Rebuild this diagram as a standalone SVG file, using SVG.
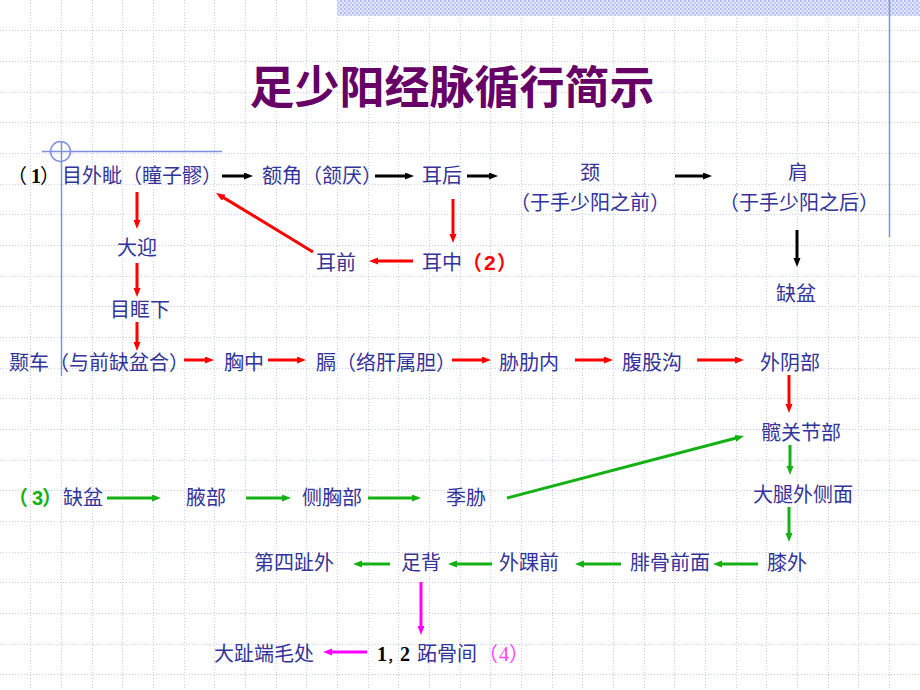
<svg xmlns="http://www.w3.org/2000/svg" width="920" height="690" viewBox="0 0 920 690">
<defs>
<style>
.t{font-family:"Noto Sans CJK SC","Noto Sans",sans-serif;font-size:20px;fill:#333399}
.title{font-family:"Noto Sans CJK SC",sans-serif;font-size:45px;font-weight:bold;fill:#660066}
.serifb{font-family:"Liberation Serif",serif;font-weight:bold}
.sansb{font-family:"Liberation Sans",sans-serif;font-weight:bold}
.grid{stroke:#c4caf2;stroke-width:1;stroke-dasharray:1 2;fill:none}
.deco{stroke:#8090e6;stroke-width:1.5;fill:none}
.k{stroke:#000;stroke-width:3;fill:none;marker-end:url(#ak)}
.r{stroke:#ff0000;stroke-width:3;fill:none;marker-end:url(#ar)}
.g{stroke:#14b014;stroke-width:3;fill:none;marker-end:url(#ag)}
.m{stroke:#ff00ff;stroke-width:3;fill:none;marker-end:url(#am)}
</style>
<pattern id="band" width="4" height="4" patternUnits="userSpaceOnUse">
<rect width="4" height="4" fill="#e2e7fc"/>
<rect width="2" height="2" fill="#b0bcf2"/>
<rect x="2" y="2" width="2" height="2" fill="#c4ccf6"/>
</pattern>
<marker id="ak" markerUnits="userSpaceOnUse" markerWidth="10" markerHeight="8" refX="3" refY="3.5" orient="auto"><path d="M0,0 L9,3.5 L0,7 z" fill="#000"/></marker>
<marker id="ar" markerUnits="userSpaceOnUse" markerWidth="10" markerHeight="8" refX="3" refY="3.5" orient="auto"><path d="M0,0 L9,3.5 L0,7 z" fill="#ff0000"/></marker>
<marker id="ag" markerUnits="userSpaceOnUse" markerWidth="10" markerHeight="8" refX="3" refY="3.5" orient="auto"><path d="M0,0 L9,3.5 L0,7 z" fill="#14b014"/></marker>
<marker id="am" markerUnits="userSpaceOnUse" markerWidth="10" markerHeight="8" refX="3" refY="3.5" orient="auto"><path d="M0,0 L9,3.5 L0,7 z" fill="#ff00ff"/></marker>
</defs>
<rect width="920" height="690" fill="#ffffff"/>
<g id="background">
<path class="grid" d="M30.5,0V690M61.5,0V690M92.5,0V690M122.5,0V690M153.5,0V690M184.5,0V690M214.5,0V690M245.5,0V690M276.5,0V690M306.5,0V690M337.5,0V690M368.5,0V690M398.5,0V690M429.5,0V690M460.5,0V690M490.5,0V690M521.5,0V690M552.5,0V690M582.5,0V690M613.5,0V690M644.5,0V690M674.5,0V690M705.5,0V690M736.5,0V690M766.5,0V690M797.5,0V690M828.5,0V690M858.5,0V690M889.5,0V690M0,30.5H920M0,61.5H920M0,92.5H920M0,122.5H920M0,153.5H920M0,184.5H920M0,214.5H920M0,245.5H920M0,276.5H920M0,306.5H920M0,337.5H920M0,368.5H920M0,398.5H920M0,429.5H920M0,460.5H920M0,490.5H920M0,521.5H920M0,552.5H920M0,582.5H920M0,613.5H920M0,644.5H920M0,674.5H920"/>
<rect x="337" y="0" width="583" height="16" fill="url(#band)"/>
<line class="deco" x1="889.5" y1="0" x2="889.5" y2="237"/>
<line class="deco" x1="42" y1="151.5" x2="222" y2="151.5"/>
<line class="deco" x1="61.5" y1="141" x2="61.5" y2="376"/>
<circle class="deco" cx="60.5" cy="151.5" r="10"/>
</g>
<text class="title" x="452" y="104" text-anchor="middle">足少阳经脉循行简示</text>
<g id="connectors">
<line class="k" x1="222" y1="176" x2="247" y2="176"/>
<line class="k" x1="375" y1="176" x2="408" y2="176"/>
<line class="k" x1="467" y1="176" x2="492" y2="176"/>
<line class="k" x1="675" y1="176" x2="706" y2="176"/>
<line class="k" x1="797" y1="230" x2="797" y2="261"/>
<line class="r" x1="137" y1="192" x2="137" y2="223"/>
<line class="r" x1="137" y1="263" x2="137" y2="291"/>
<line class="r" x1="137" y1="322" x2="137" y2="345"/>
<line class="r" x1="453" y1="199" x2="453" y2="237"/>
<line class="r" x1="413" y1="261" x2="375" y2="261"/>
<line class="r" x1="313" y1="252" x2="221.1" y2="196.1"/>
<line class="r" x1="184" y1="360" x2="208" y2="360"/>
<line class="r" x1="268" y1="360" x2="300" y2="360"/>
<line class="r" x1="452" y1="360" x2="485" y2="360"/>
<line class="r" x1="575" y1="360" x2="607" y2="360"/>
<line class="r" x1="697" y1="360" x2="738" y2="360"/>
<line class="r" x1="789" y1="375" x2="789" y2="407"/>
<line class="g" x1="790" y1="445" x2="790" y2="469"/>
<line class="g" x1="789" y1="507" x2="789" y2="536"/>
<line class="g" x1="758" y1="564" x2="719" y2="564"/>
<line class="g" x1="621" y1="564" x2="581" y2="564"/>
<line class="g" x1="492" y1="564" x2="454" y2="564"/>
<line class="g" x1="390" y1="564" x2="359" y2="564"/>
<line class="g" x1="107" y1="498" x2="155" y2="498"/>
<line class="g" x1="246" y1="498" x2="285" y2="498"/>
<line class="g" x1="368" y1="498" x2="415" y2="498"/>
<line class="g" x1="507" y1="498" x2="738.2" y2="437.5"/>
<line class="m" x1="421" y1="582" x2="421" y2="629"/>
<line class="m" x1="367" y1="652" x2="329" y2="652"/>
</g>
<g id="n1"><text class="t" y="183"><tspan x="7" fill="#000">（</tspan><tspan x="31" class="serifb" fill="#000">1</tspan><tspan x="40" fill="#000">）</tspan><tspan x="62">目外眦（瞳子髎）</tspan></text></g>
<g id="n-egjiao"><text class="t" x="262" y="183">额角（颔厌）</text></g>
<g id="n-erhou"><text class="t" x="422" y="183">耳后</text></g>
<g id="n-jing"><text class="t" text-anchor="middle"><tspan x="590" y="180">颈</tspan><tspan x="590" y="210">（于手少阳之前）</tspan></text></g>
<g id="n-jian"><text class="t" text-anchor="middle"><tspan x="798" y="180">肩</tspan><tspan x="799" y="210">（于手少阳之后）</tspan></text></g>
<g id="n-quepen1"><text class="t" x="796" y="301" text-anchor="middle">缺盆</text></g>
<g id="n-daying"><text class="t" x="137" y="255" text-anchor="middle">大迎</text></g>
<g id="n-mukuang"><text class="t" x="140" y="317" text-anchor="middle">目眶下</text></g>
<g id="n-erqian"><text class="t" x="316" y="270">耳前</text></g>
<g id="n-erzhong"><text class="t" y="270"><tspan x="422">耳中</tspan><tspan x="462" fill="#ff0000" font-weight="bold">（</tspan><tspan x="484" class="sansb" fill="#ff0000" font-size="21">2</tspan><tspan x="497" fill="#ff0000" font-weight="bold">）</tspan></text></g>
<g id="n-jiache"><text class="t" x="9" y="370">颞车（与前缺盆合）</text></g>
<g id="n-xiongzhong"><text class="t" x="224" y="370">胸中</text></g>
<g id="n-ge"><text class="t" x="316" y="370">膈（络肝属胆）</text></g>
<g id="n-xielei"><text class="t" x="499" y="370">胁肋内</text></g>
<g id="n-fugugou"><text class="t" x="622" y="370">腹股沟</text></g>
<g id="n-waiyin"><text class="t" x="760" y="370">外阴部</text></g>
<g id="n-kuan"><text class="t" x="761" y="440">髋关节部</text></g>
<g id="n-quepen3"><text class="t" y="505"><tspan x="8" fill="#14b014" font-weight="bold">（</tspan><tspan x="32" class="sansb" fill="#14b014">3</tspan><tspan x="42" fill="#14b014" font-weight="bold">）</tspan><tspan x="63">缺盆</tspan></text></g>
<g id="n-ye"><text class="t" x="186" y="505">腋部</text></g>
<g id="n-cexiong"><text class="t" x="302" y="505">侧胸部</text></g>
<g id="n-jixie"><text class="t" x="446" y="505">季胁</text></g>
<g id="n-datui"><text class="t" x="753" y="502">大腿外侧面</text></g>
<g id="n-xiwai"><text class="t" x="767" y="570">膝外</text></g>
<g id="n-feigu"><text class="t" x="630" y="570">腓骨前面</text></g>
<g id="n-waihuai"><text class="t" x="499" y="570">外踝前</text></g>
<g id="n-zubei"><text class="t" x="401" y="570">足背</text></g>
<g id="n-disi"><text class="t" x="254" y="570">第四趾外</text></g>
<g id="n-zhigu"><text class="t" y="661"><tspan x="377" class="serifb" fill="#000">1</tspan><tspan x="387" fill="#000" font-weight="bold" font-size="13">，</tspan><tspan x="400" class="serifb" fill="#000">2</tspan><tspan x="417">跖骨间</tspan><tspan x="478" fill="#ff44ff">（</tspan><tspan x="499" font-family="Liberation Serif, serif" fill="#ff44ff">4</tspan><tspan x="509" fill="#ff44ff">）</tspan></text></g>
<g id="n-dazhi"><text class="t" x="214" y="661">大趾端毛处</text></g>
</svg>
